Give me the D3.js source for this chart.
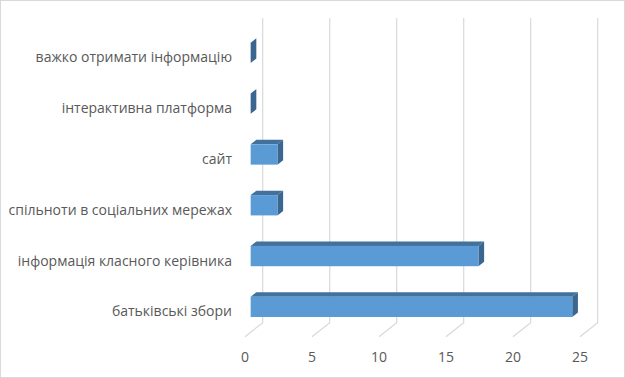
<!DOCTYPE html>
<html>
<head>
<meta charset="utf-8">
<script src="https://cdn.jsdelivr.net/npm/d3@7"></script>
<style>
  body { margin: 0; background: #fff; }
  text { font-family: "Open Sans", sans-serif; fill: #595959; }
</style>
</head>
<body>
<div id="chartContainer"></div>
<script>
// categories listed top to bottom, as in the picture
const categories = [
    "важко отримати інформацію",
    "інтерактивна платформа",
    "сайт",
    "спільноти в соціальних мережах",
    "інформація класного керівника",
    "батьківські збори"
];
const values = [0, 0, 2, 2, 17, 24];
const ticks = [0, 5, 10, 15, 20, 25];

const width = 625, height = 378;
// oblique depth offset of the 3D floor
const depthX = 17.7, depthY = -14;
const barFront = 0.32, barBack = 0.64;

const svg = d3.select("#chartContainer").append("svg")
    .attr("width", width)
    .attr("height", height);

svg.append("rect")
    .attr("x", 0.5).attr("y", 0.5)
    .attr("width", width - 1).attr("height", height - 1)
    .attr("fill", "#fff")
    .attr("stroke", "#d9d9d9");

const x = d3.scaleLinear().domain([0, 25]).range([245, 580]);
const y = d3.scaleBand().domain(categories).range([32, 336.7])
    .paddingInner(0.6).paddingOuter(0.3);

// project a point (value, front y, depth fraction)
const P = (v, yy, f) => [x(v) + f * depthX, yy + f * depthY];
const poly = pts => "M" + pts.map(p => p.join(",")).join("L") + "Z";

// back wall gridlines + floor lines
const grid = svg.append("g").attr("stroke", "#d9d9d9").attr("fill", "none");
ticks.forEach(t => {
    const top = P(t, 32, 1), bottom = P(t, 336.7, 1), front = P(t, 336.7, 0);
    grid.append("path")
        .attr("d", `M${top}L${bottom}L${front}`)
        .attr("stroke-width", 1.2);
});

// bars
const bars = svg.append("g");
categories.forEach((c, i) => {
    const v = values[i];
    const y0 = y(c), y1 = y(c) + y.bandwidth();
    // top face
    bars.append("path")
        .attr("d", poly([P(0, y0, barFront), P(v, y0, barFront), P(v, y0, barBack), P(0, y0, barBack)]))
        .attr("fill", "#41719c");
    // right side face
    bars.append("path")
        .attr("d", poly([P(v, y0, barFront), P(v, y0, barBack), P(v, y1, barBack), P(v, y1, barFront)]))
        .attr("fill", "#3a6690");
    // front face
    if (v > 0) {
        const a = P(0, y0, barFront), b = P(v, y1, barFront);
        bars.append("rect")
            .attr("x", a[0]).attr("y", a[1])
            .attr("width", b[0] - a[0]).attr("height", b[1] - a[1])
            .attr("fill", "#5b9bd5");
    }
});

// category labels
svg.append("g").selectAll("text")
    .data(categories)
    .join("text")
    .attr("x", 232)
    .attr("y", d => P(0, y(d) + y.bandwidth() / 2, barFront)[1] + 9.5)
    .attr("text-anchor", "end")
    .attr("font-size", 14)
    .text(d => d);

// value axis labels
svg.append("g").selectAll("text")
    .data(ticks)
    .join("text")
    .attr("x", d => x(d))
    .attr("y", 362)
    .attr("text-anchor", "middle")
    .attr("font-size", 14)
    .text(d => d);
</script>
</body>
</html>
